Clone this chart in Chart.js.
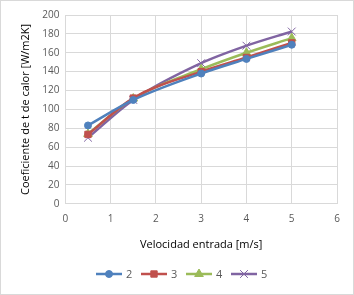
<!DOCTYPE html>
<html>
<head>
<meta charset="utf-8">
<script src="https://cdn.jsdelivr.net/npm/chart.js@4/dist/chart.umd.min.js"></script>
<style>
    html, body { margin: 0; padding: 0; background: #fff; }
    #box { position: absolute; left: 0; top: 0; width: 352px; height: 293px; border: 1px solid #d9d9d9; }
</style>
</head>
<body>
<div id="box"><canvas id="chart" width="352" height="293"></canvas></div>
<script>
const velocidad = [0.5, 1.5, 3, 4, 5];
const seriesNames = ["2", "3", "4", "5"];
const serie2 = [83, 110, 138, 153.5, 168.5];
const serie3 = [73.5, 112, 140, 155, 170.5];
const serie4 = [74, 111.5, 142.5, 160, 175.5];
const serie5 = [70, 110, 149, 167.5, 182.5];
const yTicks = [0, 20, 40, 60, 80, 100, 120, 140, 160, 180, 200];
const xTicks = [0, 1, 2, 3, 4, 5, 6];

const colors = ["#4F81BD", "#C0504D", "#9BBB59", "#8064A2"];
const markers = ["circle", "rect", "triangle", "crossRot"];
const radii = [3.5, 4.5, 5, 5.5];
const values = [serie2, serie3, serie4, serie5];

const textColor = "#595959";
const fontFamily = "'Open Sans', 'Liberation Sans', sans-serif";

const datasets = seriesNames.map((name, i) => ({
    label: name,
    data: velocidad.map((x, j) => ({ x: x, y: values[i][j] })),
    borderColor: colors[i],
    backgroundColor: colors[i],
    pointBorderColor: colors[i],
    pointBackgroundColor: colors[i],
    borderWidth: 2.5,
    pointStyle: markers[i],
    pointRadius: radii[i],
    pointBorderWidth: 1,
    tension: 0.3,
    cubicInterpolationMode: "monotone"
}));

// legend drawn like Excel: short line with marker, then the name
const excelLegend = {
    id: "excelLegend",
    afterDraw(chart) {
        const ctx = chart.ctx;
        const y = 273;
        let x = 95;
        ctx.save();
        ctx.font = "11px " + fontFamily;
        ctx.textBaseline = "middle";
        chart.data.datasets.forEach((ds, i) => {
            ctx.strokeStyle = ds.borderColor;
            ctx.lineWidth = 2.5;
            ctx.beginPath();
            ctx.moveTo(x, y);
            ctx.lineTo(x + 26, y);
            ctx.stroke();
            ctx.fillStyle = ds.borderColor;
            ctx.lineWidth = 1;
            Chart.helpers.drawPoint(ctx, {
                pointStyle: ds.pointStyle,
                radius: ds.pointRadius,
                borderWidth: 1
            }, x + 13, y);
            ctx.fillStyle = textColor;
            ctx.fillText(ds.label, x + 30, y + 1);
            x += 45;
        });
        ctx.restore();
    }
};

new Chart(document.getElementById("chart").getContext("2d"), {
    type: "line",
    data: { datasets: datasets },
    options: {
        responsive: false,
        animation: false,
        layout: { padding: { left: 18, right: 16, top: 14, bottom: 43 } },
        plugins: {
            legend: { display: false },
            tooltip: { enabled: false }
        },
        scales: {
            x: {
                type: "linear",
                min: 0,
                max: 6,
                afterBuildTicks: (axis) => { axis.ticks = xTicks.map(v => ({ value: v })); },
                grid: { color: "#d9d9d9", drawTicks: false },
                border: { color: "#d9d9d9" },
                ticks: { color: textColor, font: { size: 10, family: fontFamily }, padding: 9 },
                title: { display: true, text: "Velocidad entrada [m/s]", color: "#000", font: { size: 11, family: fontFamily }, padding: { top: 4, bottom: 0 } }
            },
            y: {
                min: 0,
                max: 200,
                afterBuildTicks: (axis) => { axis.ticks = yTicks.map(v => ({ value: v })); },
                grid: { color: "#d9d9d9", drawTicks: false },
                border: { color: "#d9d9d9" },
                ticks: { color: textColor, font: { size: 10, family: fontFamily }, padding: 6 },
                title: { display: true, text: "Coeficiente de t de calor [W/m2K]", color: "#000", font: { size: 11, family: fontFamily }, padding: { top: 0, bottom: 4 } }
            }
        }
    },
    plugins: [excelLegend]
});
</script>
</body>
</html>
